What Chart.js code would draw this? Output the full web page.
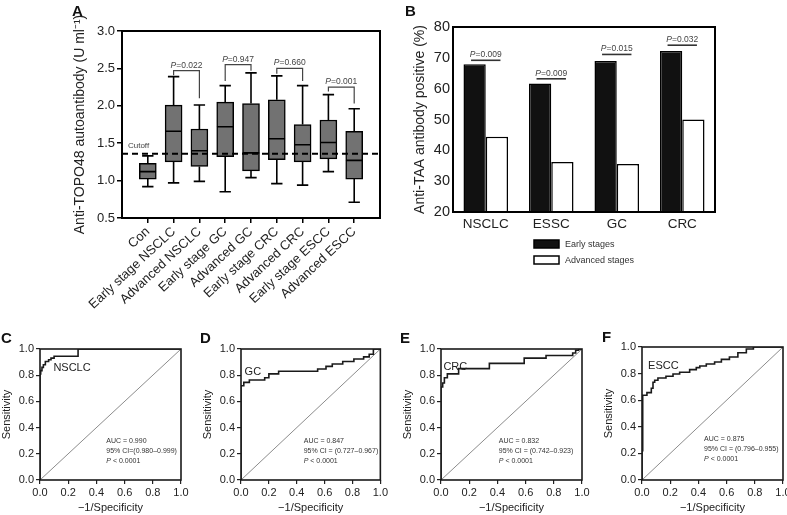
<!DOCTYPE html>
<html><head><meta charset="utf-8">
<script src="https://cdn.jsdelivr.net/npm/chart.js@4.4.1/dist/chart.umd.min.js"></script>
<style>
html,body{margin:0;padding:0;background:#fff;overflow:hidden;}
#wrap{position:relative;width:787px;height:515px;overflow:hidden;background:#fff;}
canvas{position:absolute;}
</style></head><body>
<div id="wrap">
<canvas id="cA" width="398" height="330" style="left:0;top:0"></canvas>
<canvas id="cB" width="387" height="300" style="left:400px;top:0"></canvas>
<canvas id="cC" width="195" height="215" style="left:0;top:300px"></canvas>
<canvas id="cD" width="195" height="215" style="left:195px;top:300px"></canvas>
<canvas id="cE" width="205" height="215" style="left:390px;top:300px"></canvas>
<canvas id="cF" width="220" height="215" style="left:585px;top:300px"></canvas>
</div>
<script>
// ---------------- DATA ----------------
// Panel A: box plots
const catsA = ['Con','Early stage NSCLC','Advanced NSCLC','Early stage GC','Advanced GC','Early stage CRC','Advanced CRC','Early stage ESCC','Advanced ESCC'];
const minA = [0.92,0.97,0.99,0.85,1.04,0.96,0.94,1.12,0.71];
const q1A  = [1.02,1.25,1.19,1.32,1.13,1.28,1.25,1.29,1.02];
const medA = [1.12,1.66,1.40,1.72,1.37,1.56,1.48,1.51,1.27];
const q3A  = [1.23,2.01,1.69,2.05,2.03,2.08,1.75,1.81,1.66];
const maxA = [1.33,2.39,2.01,2.27,2.44,2.40,2.27,2.15,1.96];
const cutoffA = 1.36;
const pTextA = ['0.022','0.947','0.660','0.001'];
const pLeftA = [2,4,6,8];      // category position (1-based)
const pRightA = [3,5,7,9];
const pTopA = [2.47,2.55,2.50,2.25];
const pLegLA = [2.41,2.33,2.43,2.19];
const pLegRA = [2.10,2.47,2.33,2.03];
const yTicksA = [0.5,1.0,1.5,2.0,2.5,3.0];

// Panel B: bars
const catsB = ['NSCLC','ESSC','GC','CRC'];
const earlyB = [67.9,61.7,69.0,72.2];
const advB = [44.4,36.2,35.6,50.0];
const pTextB = ['0.009','0.009','0.015','0.032'];
const pLineB = [69.2,63.2,71.1,74.1];
const seriesB = ['Early stages','Advanced stages'];

// Panels C-F: ROC curves (false positive rate, sensitivity)
const fprNSCLC = [0,0,0.005,0.014,0.024,0.038,0.061,0.078,0.10,0.27,0.93,1];
const tprNSCLC = [0,0.71,0.81,0.835,0.86,0.88,0.905,0.918,0.93,0.945,1,1];
const fprGC = [0,0,0.02,0.06,0.17,0.20,0.27,0.55,0.61,0.655,0.73,0.81,0.88,0.92,0.95,1];
const tprGC = [0,0.68,0.72,0.745,0.763,0.78,0.81,0.83,0.847,0.867,0.885,0.905,0.924,0.94,0.96,1];
const fprCRC = [0,0,0.012,0.024,0.045,0.125,0.343,0.59,0.745,0.934,0.955,0.976,1];
const tprCRC = [0,0.66,0.71,0.74,0.78,0.81,0.85,0.89,0.93,0.95,0.97,0.99,1];
const fprESCC = [0,0.005,0.005,0.035,0.066,0.078,0.09,0.113,0.17,0.22,0.267,0.338,0.385,0.41,0.456,0.515,0.563,0.62,0.68,0.74,0.79,1];
const tprESCC = [0,0.22,0.61,0.637,0.657,0.69,0.735,0.75,0.767,0.78,0.797,0.81,0.83,0.845,0.857,0.872,0.887,0.907,0.925,0.957,0.985,1];
const rocTicks = [0,0.2,0.4,0.6,0.8,1.0];

// ---------------- STYLE / HELPERS ----------------
const FONT = "'Liberation Sans', Arial, Helvetica, sans-serif";
Chart.defaults.font.family = FONT;
Chart.defaults.color = '#222';
Chart.defaults.animation = false;
Chart.defaults.responsive = false;
Chart.defaults.devicePixelRatio = 1;

function drawRich(ctx, parts, x, y, align, size, color) {
  ctx.save(); ctx.fillStyle = color; ctx.textBaseline = 'alphabetic'; ctx.textAlign = 'left';
  const fonts = parts.map(p => (p.i ? 'italic ' : '') + (p.b ? 'bold ' : '') + size + 'px ' + FONT);
  const widths = parts.map((p, k) => { ctx.font = fonts[k]; return ctx.measureText(p.t).width; });
  const total = widths.reduce((a, b) => a + b, 0);
  let sx = align === 'center' ? x - total / 2 : align === 'right' ? x - total : x;
  parts.forEach((p, k) => { ctx.font = fonts[k]; ctx.fillText(p.t, sx, y); sx += widths[k]; });
  ctx.restore();
  return total;
}

const framePlugin = {
  id: 'frame',
  afterDatasetsDraw(chart, args, opts) {
    const { ctx, chartArea: a } = chart;
    ctx.save(); ctx.strokeStyle = opts.color || '#000'; ctx.lineWidth = opts.width || 2;
    ctx.strokeRect(a.left, a.top, a.right - a.left, a.bottom - a.top);
    ctx.restore();
  }
};

const notesPlugin = {
  id: 'notes',
  afterDraw(chart, args, opts) {
    const ctx = chart.ctx;
    (opts.items || []).forEach(it => {
      const px = it.px !== undefined ? it.px : chart.scales.x.getPixelForValue(it.x) + (it.dx || 0);
      const py = it.py !== undefined ? it.py : chart.scales.y.getPixelForValue(it.y) + (it.dy || 0);
      drawRich(ctx, it.parts, px, py, it.align || 'left', it.size || 10, it.color || '#222');
    });
  }
};

function segs(list) {
  const out = [];
  list.forEach(s => { s.forEach(p => out.push(p)); out.push({ x: s[s.length - 1].x, y: null }); });
  return out;
}

// ---------------- PANEL A ----------------
const BOX_HALF = 0.32, CAP_HALF = 0.22;
const posA = catsA.map((c, i) => i + 1);
const medianSegs = posA.map((p, i) => [{ x: p - BOX_HALF, y: medA[i] }, { x: p + BOX_HALF, y: medA[i] }]);
const whiskerSegs = [];
posA.forEach((p, i) => {
  whiskerSegs.push([{ x: p, y: q3A[i] }, { x: p, y: maxA[i] }]);
  whiskerSegs.push([{ x: p, y: minA[i] }, { x: p, y: q1A[i] }]);
  whiskerSegs.push([{ x: p - CAP_HALF, y: maxA[i] }, { x: p + CAP_HALF, y: maxA[i] }]);
  whiskerSegs.push([{ x: p - CAP_HALF, y: minA[i] }, { x: p + CAP_HALF, y: minA[i] }]);
});
const bracketSegs = pTextA.map((t, k) => [
  { x: pLeftA[k], y: pLegLA[k] }, { x: pLeftA[k], y: pTopA[k] },
  { x: pRightA[k], y: pTopA[k] }, { x: pRightA[k], y: pLegRA[k] }
]);

const notesA = [
  { px: 72, py: 16, parts: [{ t: 'A', b: true }], size: 15, color: '#111' },
  { x: 0.23, y: 1.44, parts: [{ t: 'Cutoff' }], size: 8, color: '#444' }
];
pTextA.forEach((t, k) => notesA.push({
  x: (pLeftA[k] + pRightA[k]) / 2, y: pTopA[k], dy: -3, align: 'center',
  parts: [{ t: 'P', i: true }, { t: '=' + t }], size: 8.5, color: '#444'
}));

new Chart(document.getElementById('cA'), {
  type: 'bar',
  data: {
    datasets: [
      { type: 'line', data: segs(medianSegs), borderColor: '#000', borderWidth: 1.6, pointRadius: 0, spanGaps: false, order: 1 },
      { type: 'line', data: segs(whiskerSegs), borderColor: '#000', borderWidth: 1.6, pointRadius: 0, spanGaps: false, order: 2 },
      { type: 'line', data: segs(bracketSegs), borderColor: '#444', borderWidth: 1.2, pointRadius: 0, spanGaps: false, order: 3 },
      { type: 'line', data: [{ x: 0, y: cutoffA }, { x: 10, y: cutoffA }], borderColor: '#000', borderWidth: 2, borderDash: [6, 4], pointRadius: 0, order: 0 },
      { type: 'bar', data: posA.map((p, i) => ({ x: p, y: [q1A[i], q3A[i]] })), backgroundColor: '#727272', borderColor: '#000', borderWidth: 1.5, borderSkipped: false, barThickness: 17, order: 10 }
    ]
  },
  options: {
    layout: { padding: { left: 72, right: 18, top: 31, bottom: 0 } },
    scales: {
      x: {
        type: 'linear', min: 0, max: 10, offset: false,
        afterBuildTicks(s) { s.ticks = posA.map(v => ({ value: v })); },
        afterFit(s) { s.height = 112; },
        ticks: { callback: v => catsA[v - 1], autoSkip: false, maxRotation: 43, minRotation: 43, font: { size: 13 }, padding: 1, color: '#222' },
        grid: { offset: false, drawOnChartArea: false, tickLength: 5, color: '#000', lineWidth: 1.5 },
        border: { display: false }
      },
      y: {
        type: 'linear', min: 0.5, max: 3.0,
        afterBuildTicks(s) { s.ticks = yTicksA.map(v => ({ value: v })); },
        afterFit(s) { s.width = 50; },
        ticks: { callback: v => v.toFixed(1), font: { size: 13 }, padding: 2, color: '#222' },
        grid: { drawOnChartArea: false, tickLength: 5, color: '#000', lineWidth: 1.5 },
        border: { display: false },
        title: { display: true, text: 'Anti-TOPO48 autoantibody (U ml⁻¹)', font: { size: 14 }, padding: 0, color: '#222' }
      }
    },
    plugins: { legend: { display: false }, tooltip: { enabled: false }, frame: { width: 2 }, notes: { items: notesA } }
  },
  plugins: [framePlugin, notesPlugin]
});

// ---------------- PANEL B ----------------
const pLinesPlugin = {
  id: 'plinesB',
  afterDatasetsDraw(chart) {
    const ctx = chart.ctx, m0 = chart.getDatasetMeta(0), m1 = chart.getDatasetMeta(1), ys = chart.scales.y;
    pTextB.forEach((t, k) => {
      const e0 = m0.data[k], e1 = m1.data[k];
      const c = (e0.x + e1.x) / 2, half = (e1.x - e0.x) * 0.66;
      const y = ys.getPixelForValue(pLineB[k]);
      ctx.save(); ctx.strokeStyle = '#333'; ctx.lineWidth = 1.6;
      ctx.beginPath(); ctx.moveTo(c - half, y); ctx.lineTo(c + half, y); ctx.stroke(); ctx.restore();
      drawRich(ctx, [{ t: 'P', i: true }, { t: '=' + t }], c, y - 3, 'center', 8.5, '#444');
    });
  }
};
const legendBPlugin = {
  id: 'legendB',
  afterDraw(chart) {
    const ctx = chart.ctx, a = chart.chartArea;
    chart.data.datasets.forEach((ds, k) => {
      const x = a.left + 81, y = a.bottom + 28 + k * 16;
      ctx.save(); ctx.fillStyle = ds.backgroundColor; ctx.strokeStyle = '#000'; ctx.lineWidth = 1.5;
      ctx.fillRect(x, y, 25, 8); ctx.strokeRect(x, y, 25, 8); ctx.restore();
      ctx.save(); ctx.fillStyle = '#333'; ctx.font = '9px ' + FONT; ctx.textBaseline = 'middle'; ctx.textAlign = 'left';
      ctx.fillText(ds.label, x + 31, y + 4.5); ctx.restore();
    });
  }
};

new Chart(document.getElementById('cB'), {
  type: 'bar',
  data: {
    labels: catsB,
    datasets: [
      { label: seriesB[0], data: earlyB, backgroundColor: '#111', borderColor: '#000', borderWidth: 1.5, borderSkipped: false, categoryPercentage: 0.68, barPercentage: 1.0 },
      { label: seriesB[1], data: advB, backgroundColor: '#fff', borderColor: '#000', borderWidth: 1.5, borderSkipped: false, categoryPercentage: 0.68, barPercentage: 1.0 }
    ]
  },
  options: {
    layout: { padding: { left: 12, right: 72, top: 27, bottom: 58 } },
    scales: {
      x: {
        afterFit(s) { s.height = 30; },
        ticks: { font: { size: 13.5 }, padding: 4, color: '#222' },
        grid: { display: false, drawTicks: false }, border: { display: false }
      },
      y: {
        min: 20, max: 80,
        afterFit(s) { s.width = 41; },
        ticks: { stepSize: 10, font: { size: 14.5 }, padding: 3, color: '#222' },
        grid: { display: false, drawTicks: false }, border: { display: false },
        title: { display: true, text: 'Anti-TAA antibody positive (%)', font: { size: 14 }, padding: 0, color: '#222' }
      }
    },
    plugins: { legend: { display: false }, tooltip: { enabled: false }, frame: { width: 2 },
      notes: { items: [{ px: 5, py: 16, parts: [{ t: 'B', b: true }], size: 15, color: '#111' }] } }
  },
  plugins: [framePlugin, pLinesPlugin, legendBPlugin, notesPlugin]
});

// ---------------- PANELS C-F ----------------
function makeROC(id, fpr, tpr, cfg) {
  const pts = fpr.map((x, i) => ({ x, y: tpr[i] }));
  const items = [
    { px: cfg.lx, py: cfg.ly, parts: [{ t: cfg.letter, b: true }], size: 15, color: '#111' },
    { x: cfg.nameX, y: cfg.nameY, dy: 4, parts: [{ t: cfg.name }], size: 11, color: '#222' },
    { x: cfg.tx, y: cfg.ty, parts: [{ t: 'AUC = ' + cfg.auc }], size: 7, color: '#333' },
    { x: cfg.tx, y: cfg.ty - 0.075, parts: [{ t: cfg.ci }], size: 7, color: '#333' },
    { x: cfg.tx, y: cfg.ty - 0.15, parts: [{ t: 'P', i: true }, { t: ' < 0.0001' }], size: 7, color: '#333' }
  ];
  const axisBase = {
    type: 'linear', min: 0, max: 1,
    afterBuildTicks(s) { s.ticks = rocTicks.map(v => ({ value: v })); },
    ticks: { callback: v => v.toFixed(1), font: { size: 11 }, padding: 2, color: '#222', maxRotation: 0, autoSkip: false },
    grid: { drawOnChartArea: false, tickLength: 4, color: '#222', lineWidth: 1.2 },
    border: { display: false }
  };
  new Chart(document.getElementById(id), {
    type: 'line',
    data: { datasets: [
      { data: pts, stepped: 'after', borderColor: '#1a1a1a', borderWidth: 1.6, pointRadius: 0, order: 1 },
      { data: [{ x: 0, y: 0 }, { x: 1, y: 1 }], borderColor: '#8c8c8c', borderWidth: 1, pointRadius: 0, order: 2 }
    ] },
    options: {
      layout: { padding: { left: cfg.pl, right: cfg.pr, top: cfg.pt, bottom: 0 } },
      scales: {
        x: Object.assign({}, axisBase, {
          afterFit(s) { s.height = 35; },
          title: { display: true, text: '−1/Specificity', font: { size: 11 }, padding: 0, color: '#222' }
        }),
        y: Object.assign({}, axisBase, {
          afterFit(s) { s.width = 40; },
          title: { display: true, text: 'Sensitivity', font: { size: 11 }, padding: 0, color: '#222' }
        })
      },
      plugins: { legend: { display: false }, tooltip: { enabled: false }, frame: { width: 1.6, color: '#1a1a1a' }, notes: { items } }
    },
    plugins: [framePlugin, notesPlugin]
  });
}

makeROC('cC', fprNSCLC, tprNSCLC, { letter: 'C', lx: 1, ly: 43, pl: 0, pr: 14, pt: 49, name: 'NSCLC', nameX: 0.095, nameY: 0.86, tx: 0.47, ty: 0.28, auc: '0.990', ci: '95% CI=(0.980–0.999)' });
makeROC('cD', fprGC, tprGC, { letter: 'D', lx: 5, ly: 43, pl: 6, pr: 9, pt: 49, name: 'GC', nameX: 0.026, nameY: 0.835, tx: 0.45, ty: 0.28, auc: '0.847', ci: '95% CI = (0.727–0.967)' });
makeROC('cE', fprCRC, tprCRC, { letter: 'E', lx: 10, ly: 43, pl: 11, pr: 13, pt: 49, name: 'CRC', nameX: 0.017, nameY: 0.873, tx: 0.41, ty: 0.28, auc: '0.832', ci: '95% CI = (0.742–0.923)' });
makeROC('cF', fprESCC, tprESCC, { letter: 'F', lx: 17, ly: 42, pl: 17, pr: 22, pt: 47, name: 'ESCC', nameX: 0.043, nameY: 0.862, tx: 0.44, ty: 0.29, auc: '0.875', ci: '95% CI = (0.796–0.955)' });
</script>
</body></html>
